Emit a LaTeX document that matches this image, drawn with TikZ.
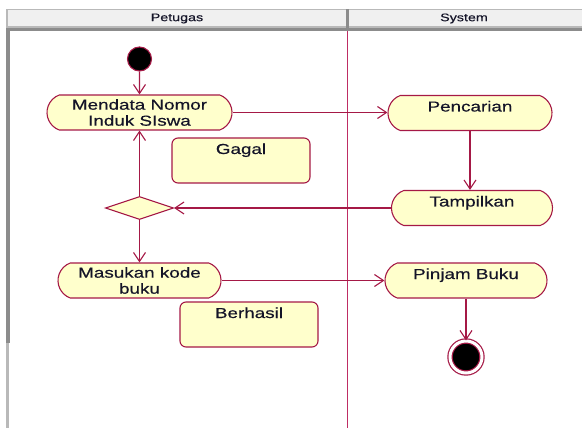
\documentclass[tikz,border=0pt]{standalone}
\usepackage{fontspec}
\newfontfamily\diafont[FakeStretch=1.3,FakeBold=0.4]{Liberation Sans}
\newfontfamily\headfont[FakeStretch=1.3,FakeBold=0.3]{Liberation Sans}
\usetikzlibrary{arrows.meta,shapes.misc,shapes.geometric}
\definecolor{roseline}{RGB}{165,25,70}
\definecolor{lanered}{RGB}{190,45,100}
\definecolor{rosefill}{RGB}{255,255,204}
\definecolor{headfill}{RGB}{240,240,240}
\definecolor{framegray}{RGB}{140,140,140}
\definecolor{framelight}{RGB}{185,185,185}
\definecolor{inktext}{RGB}{20,20,40}
\begin{document}
\begin{tikzpicture}[x=1pt,y=-1pt,
  headtext/.style={font=\headfont\fontsize{11}{13}\selectfont, text=inktext, inner sep=0},
  activity/.style={rounded rectangle, rounded rectangle arc length=140,
    draw=roseline, fill=rosefill, line width=1.1pt, inner xsep=0pt, inner ysep=5pt,
    font=\diafont\fontsize{14.5}{16}\selectfont, text=inktext,
    text height=11pt, text depth=14pt},
  activity2/.style={activity, text height=, text depth=, inner ysep=1pt,
    minimum height=35pt, align=center},
  notebox/.style={rectangle, rounded corners=6pt, draw=roseline, fill=rosefill,
    line width=1.1pt, inner xsep=0pt, inner ysep=5pt,
    font=\diafont\fontsize{14.5}{16}\selectfont, text=inktext,
    text height=11pt, text depth=24pt},
  decision/.style={diamond, draw=roseline, fill=rosefill, line width=1.1pt,
    inner sep=0pt, minimum width=68pt, minimum height=23pt},
  startdot/.style={circle, draw=roseline, fill=black, line width=1.1pt,
    inner sep=0pt, minimum size=24pt},
  enddot/.style={circle, draw=roseline, fill=black, line width=1.2pt,
    double=white, double distance=3pt, inner sep=0pt, minimum size=32pt},
  flow/.style={draw=roseline, line width=1.1pt,
    -{Straight Barb[length=9pt,width=12pt,line width=1.1pt]}}
]
\useasboundingbox (0,0) rectangle (582,428);

% swimlane frame
\fill[headfill] (7,9) rectangle (582,27);
\draw[framelight, line width=0.8pt] (7,9.4) -- (582,9.4);
\fill[framelight] (6,9) rectangle (8,28);
\fill[framelight] (7,26.5) rectangle (582,28.5);
\fill[framegray] (7,28.5) rectangle (582,31);
\fill[framegray] (6,28) rectangle (10,343);
\fill[framelight] (6,343) rectangle (9,428);
\fill[framegray] (345.5,9) rectangle (349,28);
\draw[lanered, line width=1.4pt] (347.7,31) -- (347.7,428);

\node[headtext] (lanep) at (177,18.5) {Petugas};
\node[headtext] (lanes) at (464,18.5) {System};

% activities
\node[startdot] (start) at (139.5,59) {};
\node[activity2, minimum width=185pt] (mendata) at (139.5,112.5) {Mendata Nomor\\Induk SIswa};
\node[notebox, minimum width=138pt] (gagal) at (241,160.5) {Gagal};
\node[decision] (dec) at (139.5,208) {};
\node[activity2, minimum width=163pt] (masukan) at (139.5,280.5) {Masukan kode\\buku};
\node[notebox, minimum width=138pt] (berhasil) at (249,324.5) {Berhasil};

\node[activity, minimum width=164pt] (cari) at (470,113) {Pencarian};
\node[activity, minimum width=161pt] (tampil) at (472,208) {Tampilkan};
\node[activity, minimum width=162pt] (pinjam) at (466,280.5) {Pinjam Buku};
\node[enddot] (end) at (466,357) {};

% transitions
\draw[flow] (start) -- (mendata);
\draw[flow] (mendata.east) -- (mendata.east -| cari.west);
\draw[flow] (cari.south -| 470,0) -- (tampil.north -| 470,0);
\draw[flow] (tampil.west) -- (dec.east);
\draw[flow] (dec.north) -- (mendata.south);
\draw[flow] (dec.south) -- (masukan.north);
\draw[flow] (masukan.east) -- (masukan.east -| pinjam.west);
\draw[flow] (pinjam.south) -- (end.north);
\end{tikzpicture}
\end{document}
